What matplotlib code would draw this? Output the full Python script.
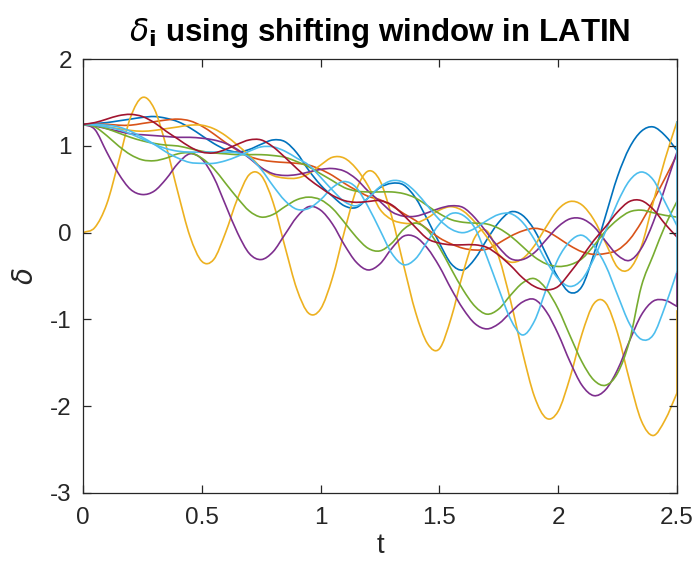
import numpy as np
import matplotlib
matplotlib.use("Agg")
import matplotlib.pyplot as plt
from matplotlib.path import Path
from matplotlib.patches import PathPatch

plt.rcParams['font.family'] = ['Liberation Sans', 'DejaVu Sans']
plt.rcParams['axes.unicode_minus'] = False
plt.rcParams['mathtext.fontset'] = 'dejavusans'

# sample times
t = np.round(np.arange(0, 2.5001, 0.05), 2)

blue = [1.25, 1.26, 1.27, 1.29, 1.31, 1.33, 1.34, 1.32, 1.28, 1.21,
        1.12, 1.03, 0.96, 0.93, 0.96, 1.02, 1.07, 1.05, 0.92, 0.72,
        0.55, 0.42, 0.31, 0.29, 0.40, 0.52, 0.57, 0.55, 0.40, 0.15,
        -0.12, -0.36, -0.43, -0.30, -0.08, 0.12, 0.24, 0.20, 0.03, -0.25,
        -0.52, -0.69, -0.62, -0.25, 0.20, 0.65, 0.98, 1.17, 1.22, 1.12,
        0.95]
orange = [1.25, 1.25, 1.25, 1.24, 1.24, 1.26, 1.28, 1.30, 1.31, 1.29,
          1.23, 1.14, 1.04, 0.95, 0.88, 0.84, 0.82, 0.81, 0.80, 0.78,
          0.73, 0.66, 0.57, 0.49, 0.42, 0.38, 0.31, 0.22, 0.14, 0.04,
          -0.06, -0.13, -0.18, -0.20, -0.19, -0.12, -0.04, 0.02, 0.05, 0.02,
          -0.06, -0.15, -0.22, -0.25, -0.24, -0.20, -0.08, 0.12, 0.37, 0.63,
          0.90]
yellow_a = [0.00, 0.06, 0.33, 0.82, 1.33, 1.56, 1.43, 1.00, 0.46, -0.04,
            -0.33, -0.31, 0.00, 0.39, 0.67, 0.66, 0.35, -0.16, -0.65, -0.93,
            -0.88, -0.52, 0.01, 0.49, 0.71, 0.60, 0.18, -0.38, -0.92, -1.28,
            -1.34, -0.98, -0.46, -0.05, 0.02, -0.28, -0.79, -1.38, -1.89, -2.14,
            -2.06, -1.67, -1.17, -0.82, -0.81, -1.16, -1.70, -2.17, -2.34, -2.16,
            -1.85]
yellow_b = [1.25, 1.24, 1.22, 1.20, 1.18, 1.17, 1.18, 1.20, 1.22, 1.24,
            1.24, 1.20, 1.12, 1.01, 0.89, 0.75, 0.66, 0.63, 0.63, 0.68,
            0.78, 0.87, 0.86, 0.74, 0.54, 0.27, 0.15, 0.11, 0.11, 0.17,
            0.26, 0.30, 0.25, 0.12, -0.05, -0.25, -0.34, -0.30, -0.15, 0.07,
            0.27, 0.36, 0.32, 0.15, -0.12, -0.40, -0.42, -0.16, 0.35, 0.85,
            1.28]
purple_a = [1.25, 1.19, 0.93, 0.68, 0.50, 0.44, 0.48, 0.62, 0.80, 0.91,
            0.85, 0.64, 0.32, 0.00, -0.24, -0.31, -0.22, -0.02, 0.18, 0.30,
            0.26, 0.10, -0.14, -0.34, -0.43, -0.36, -0.18, -0.04, -0.05, -0.18,
            -0.39, -0.65, -0.88, -1.05, -1.11, -1.05, -0.92, -0.80, -0.77, -0.91,
            -1.17, -1.49, -1.76, -1.88, -1.81, -1.58, -1.25, -0.95, -0.79, -0.78,
            -0.85]
purple_b = [1.25, 1.23, 1.20, 1.17, 1.14, 1.13, 1.12, 1.11, 1.10, 1.10,
            1.09, 1.07, 1.03, 0.96, 0.86, 0.75, 0.68, 0.66, 0.67, 0.70,
            0.73, 0.74, 0.71, 0.62, 0.48, 0.36, 0.24, 0.19, 0.19, 0.23,
            0.28, 0.31, 0.29, 0.17, 0.00, -0.17, -0.30, -0.31, -0.23, -0.08,
            0.07, 0.16, 0.16, 0.07, -0.10, -0.26, -0.32, -0.18, 0.12, 0.52,
            0.93]
green_a = [1.25, 1.22, 1.12, 1.00, 0.90, 0.84, 0.83, 0.86, 0.91, 0.92,
           0.86, 0.74, 0.57, 0.40, 0.25, 0.18, 0.21, 0.30, 0.38, 0.41,
           0.38, 0.28, 0.12, -0.05, -0.18, -0.21, -0.12, 0.04, 0.11, 0.03,
           -0.17, -0.42, -0.66, -0.85, -0.94, -0.88, -0.72, -0.58, -0.53, -0.65,
           -0.88, -1.19, -1.49, -1.70, -1.76, -1.62, -1.25, -0.62, -0.26, 0.08,
           0.36]
green_b = [1.25, 1.24, 1.20, 1.15, 1.10, 1.06, 1.03, 1.01, 1.00, 0.97,
           0.94, 0.92, 0.91, 0.90, 0.90, 0.90, 0.89, 0.87, 0.82, 0.76,
           0.68, 0.60, 0.52, 0.48, 0.47, 0.47, 0.47, 0.45, 0.40, 0.31,
           0.22, 0.15, 0.12, 0.11, 0.10, 0.05, -0.04, -0.16, -0.28, -0.36,
           -0.39, -0.37, -0.30, -0.15, 0.02, 0.15, 0.24, 0.26, 0.23, 0.20,
           0.18]
cyan_a = [1.25, 1.25, 1.24, 1.22, 1.17, 1.10, 1.02, 0.93, 0.86, 0.81,
          0.80, 0.80, 0.83, 0.88, 0.94, 0.99, 0.99, 0.94, 0.86, 0.78,
          0.64, 0.49, 0.36, 0.31, 0.40, 0.53, 0.60, 0.58, 0.47, 0.31,
          0.15, 0.04, 0.00, 0.05, 0.14, 0.21, 0.22, 0.12, -0.08, -0.33,
          -0.53, -0.62, -0.54, -0.30, 0.02, 0.35, 0.60, 0.70, 0.61, 0.35,
          0.08]
cyan_b = [1.25, 1.24, 1.22, 1.19, 1.14, 1.08, 1.02, 0.97, 0.94, 0.93,
          0.93, 0.93, 0.93, 0.92, 0.87, 0.73, 0.54, 0.37, 0.27, 0.28,
          0.38, 0.52, 0.59, 0.52, 0.30, 0.03, -0.24, -0.37, -0.30, -0.10,
          0.10, 0.22, 0.20, 0.05, -0.28, -0.65, -1.00, -1.18, -1.02, -0.65,
          -0.30, -0.10, -0.03, -0.15, -0.38, -0.72, -1.05, -1.23, -1.18, -0.85,
          -0.45]
dark_red = [1.25, 1.27, 1.31, 1.35, 1.365, 1.34, 1.27, 1.17, 1.08, 0.99,
            0.93, 0.92, 0.96, 1.02, 1.07, 1.07, 0.99, 0.87, 0.74, 0.62,
            0.52, 0.43, 0.37, 0.35, 0.36, 0.37, 0.32, 0.20, 0.06, -0.07,
            -0.12, -0.14, -0.14, -0.14, -0.17, -0.26, -0.38, -0.52, -0.62, -0.66,
            -0.62, -0.46, -0.28, -0.09, 0.07, 0.24, 0.36, 0.37, 0.27, 0.10,
            -0.05]

# value each trajectory jumps to at the final instant
final_jump = {'yellow_a': -0.90, 'purple_a': -0.45, 'cyan_b': 1.28}

series = [
    ('blue', blue, '#0072BD'),
    ('orange', orange, '#D95319'),
    ('yellow_a', yellow_a, '#EDB120'),
    ('yellow_b', yellow_b, '#EDB120'),
    ('purple_a', purple_a, '#7E2F8E'),
    ('purple_b', purple_b, '#7E2F8E'),
    ('green_a', green_a, '#77AC30'),
    ('green_b', green_b, '#77AC30'),
    ('cyan_a', cyan_a, '#4DBEEE'),
    ('cyan_b', cyan_b, '#4DBEEE'),
    ('dark_red', dark_red, '#A2142F'),
]


def smooth_path(x, y):
    """Cubic Bezier path passing through every sample (Catmull-Rom tangents)."""
    x = np.asarray(x, float)
    y = np.asarray(y, float)
    n = len(x)
    xp = np.concatenate([[2 * x[0] - x[1]], x, [2 * x[-1] - x[-2]]])
    yp = np.concatenate([[2 * y[0] - y[1]], y, [2 * y[-1] - y[-2]]])
    verts = [(x[0], y[0])]
    codes = [Path.MOVETO]
    for i in range(n - 1):
        j = i + 1
        c1 = (xp[j] + (xp[j + 1] - xp[j - 1]) / 6, yp[j] + (yp[j + 1] - yp[j - 1]) / 6)
        c2 = (xp[j + 1] - (xp[j + 2] - xp[j]) / 6, yp[j + 1] - (yp[j + 2] - yp[j]) / 6)
        verts += [c1, c2, (x[i + 1], y[i + 1])]
        codes += [Path.CURVE4] * 3
    return Path(verts, codes)


fig = plt.figure(figsize=(6.99, 5.72), dpi=100)
ax = fig.add_axes([0.1187, 0.1386, 0.8498, 0.7577])

lw = 1.2
for name, vals, col in series:
    patch = PathPatch(smooth_path(t, vals), facecolor='none', edgecolor=col,
                      lw=lw, capstyle='round', joinstyle='round')
    ax.add_patch(patch)
    if name in final_jump:
        ax.plot([t[-1], t[-1]], [vals[-1], final_jump[name]], color=col, lw=lw)

ax.set_xlim(0, 2.5)
ax.set_ylim(-3, 2)
ax.set_xticks([0, 0.5, 1, 1.5, 2, 2.5])
ax.set_xticklabels(['0', '0.5', '1', '1.5', '2', '2.5'])
ax.set_yticks([-3, -2, -1, 0, 1, 2])
ax.set_yticklabels(['-3', '-2', '-1', '0', '1', '2'])

axis_col = '#262626'
for s in ax.spines.values():
    s.set_color(axis_col)
    s.set_linewidth(0.9)
ax.tick_params(direction='in', length=6, width=0.9, colors=axis_col,
               labelsize=17.5, top=True, right=True)
ax.tick_params(axis='x', pad=10)
ax.tick_params(axis='y', pad=8)
for lab in ax.get_xticklabels() + ax.get_yticklabels():
    lab.set_color('#262626')

ax.set_xlabel('t', fontsize=20, color='#262626', labelpad=3)
ax.set_ylabel(r'$\delta$', fontsize=20, color='#262626', labelpad=8)
ax.set_title(r'$\delta_{\mathbf{i}}$ using shifting window in LATIN',
             fontsize=22.5, fontweight='bold', color='black', pad=13)

fig.savefig('out.png', dpi=100)
